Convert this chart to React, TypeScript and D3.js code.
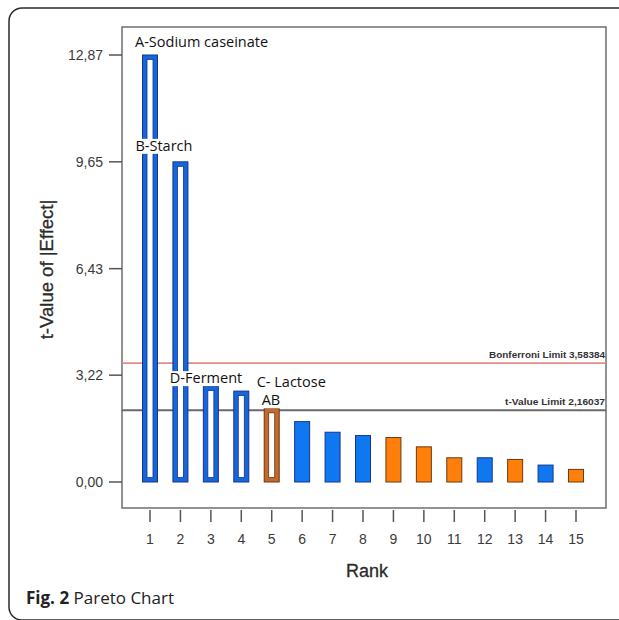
import { useEffect, useRef } from "react";
import * as d3 from "d3";

const ranks = [1, 2, 3, 4, 5, 6, 7, 8, 9, 10, 11, 12, 13, 14, 15];
const tValues = [12.87, 9.65, 2.89, 2.74, 2.22, 1.82, 1.5, 1.4, 1.34, 1.06, 0.73, 0.73, 0.68, 0.51, 0.38];
// positive / negative effect
const effectSign = ["+", "+", "+", "+", "-", "+", "+", "+", "-", "-", "-", "+", "-", "+", "-"];
const yTicks = [0, 3.22, 6.43, 9.65, 12.87];
const bonferroniLimit = 3.58384;
const tValueLimit = 2.16037;
const termLabels = [
  { rank: 1, text: "A-Sodium caseinate", dx: -15, dy: -8 },
  { rank: 2, text: "B-Starch", dx: -45, dy: -11 },
  { rank: 3, text: "D-Ferment", dx: -41, dy: -3 },
  { rank: 5, text: "C- Lactose", dx: -15, dy: -21 },
  { rank: 5, text: "AB", dx: -10, dy: -3 },
];

const sans = "'Liberation Sans', Arial, sans-serif";

export default function App() {
  const ref = useRef<SVGSVGElement>(null);

  useEffect(() => {
    const svg = d3.select(ref.current);
    svg.selectAll("*").remove();

    const plot = { left: 122, right: 606, top: 27, bottom: 508 };
    const x = d3.scaleLinear().domain([1, 15]).range([150, 576]);
    const y = d3.scaleLinear().domain([0, 12.87]).range([482, 55]);
    const comma = d3.formatLocale({ decimal: ",", thousands: ".", grouping: [3], currency: ["", ""] }).format(".2f");

    // outer frame
    svg.append("rect")
      .attr("x", 9).attr("y", 8).attr("width", 650).attr("height", 612).attr("rx", 13)
      .attr("fill", "none").attr("stroke", "#2a2a2a").attr("stroke-width", 1.5);

    // plot box
    svg.append("rect")
      .attr("x", plot.left).attr("y", plot.top)
      .attr("width", plot.right - plot.left).attr("height", plot.bottom - plot.top)
      .attr("fill", "#fff").attr("stroke", "#777").attr("stroke-width", 1.6);

    // limit lines
    svg.append("line")
      .attr("x1", plot.left).attr("x2", plot.right)
      .attr("y1", y(bonferroniLimit)).attr("y2", y(bonferroniLimit))
      .attr("stroke", "#e08c8c").attr("stroke-width", 1.6);
    svg.append("line")
      .attr("x1", plot.left).attr("x2", plot.right)
      .attr("y1", y(tValueLimit)).attr("y2", y(tValueLimit))
      .attr("stroke", "#6a6a6a").attr("stroke-width", 2);

    svg.append("text")
      .attr("x", plot.right - 1).attr("y", y(bonferroniLimit) - 5)
      .attr("text-anchor", "end").attr("font-family", sans)
      .attr("font-size", 9.5).attr("font-weight", "bold").attr("fill", "#333")
      .attr("textLength", 116).attr("lengthAdjust", "spacingAndGlyphs")
      .text("Bonferroni Limit 3,58384");
    svg.append("text")
      .attr("x", plot.right - 1).attr("y", y(tValueLimit) - 5)
      .attr("text-anchor", "end").attr("font-family", sans)
      .attr("font-size", 9.5).attr("font-weight", "bold").attr("fill", "#333")
      .attr("textLength", 100).attr("lengthAdjust", "spacingAndGlyphs")
      .text("t-Value Limit 2,16037");

    // bars
    const bw = 15;
    const barData = ranks.map((r, i) => ({ rank: r, v: tValues[i], sign: effectSign[i], hollow: i < 5 }));
    const fillOf = (s: string) => (s === "+" ? "#0f78f0" : "#ff7f0a");
    const edgeOf = (s: string) => (s === "+" ? "#18358a" : "#6a3a10");

    const g = svg.append("g");
    g.selectAll("rect.bar")
      .data(barData)
      .join("rect")
      .attr("class", "bar")
      .attr("x", (d) => x(d.rank) - bw / 2)
      .attr("y", (d) => y(d.v))
      .attr("width", bw)
      .attr("height", (d) => y(0) - y(d.v))
      .attr("fill", (d) => (d.hollow && d.sign === "-" ? "#c4682c" : d.hollow ? "#1565dc" : fillOf(d.sign)))
      .attr("stroke", (d) => edgeOf(d.sign))
      .attr("stroke-width", 1);

    g.selectAll("rect.hole")
      .data(barData.filter((d) => d.hollow))
      .join("rect")
      .attr("class", "hole")
      .attr("x", (d) => x(d.rank) - bw / 2 + 4.5)
      .attr("y", (d) => y(d.v) + 4.5)
      .attr("width", bw - 9)
      .attr("height", (d) => y(0) - y(d.v) - 9)
      .attr("fill", "#fff")
      .attr("stroke", (d) => edgeOf(d.sign))
      .attr("stroke-width", 0.8);

    // term labels with white knock-out
    termLabels.forEach((l) => {
      const idx = ranks.indexOf(l.rank);
      const tx = x(l.rank) + l.dx;
      const ty = y(tValues[idx]) + l.dy;
      const bg = svg.append("rect").attr("fill", "#fff");
      const t = svg.append("text")
        .attr("x", tx).attr("y", ty)
        .attr("font-family", "'Open Sans', sans-serif").attr("font-size", 14.5)
        .attr("fill", "#111").text(l.text);
      const bb = (t.node() as SVGTextElement).getBBox();
      bg.attr("x", bb.x).attr("y", bb.y + 3).attr("width", bb.width).attr("height", bb.height - 4);
    });

    // y axis ticks
    const yAxis = svg.append("g");
    yAxis.selectAll("line")
      .data(yTicks)
      .join("line")
      .attr("x1", plot.left - 13).attr("x2", plot.left)
      .attr("y1", (d) => y(d)).attr("y2", (d) => y(d))
      .attr("stroke", "#555").attr("stroke-width", 1.5);
    yAxis.selectAll("text")
      .data(yTicks)
      .join("text")
      .attr("x", plot.left - 19).attr("y", (d) => y(d) + 5)
      .attr("text-anchor", "end").attr("font-family", sans)
      .attr("font-size", 14).attr("fill", "#3a3a3a")
      .text((d) => comma(d));

    // x axis ticks
    const xAxis = svg.append("g");
    xAxis.selectAll("line")
      .data(ranks)
      .join("line")
      .attr("x1", (d) => x(d)).attr("x2", (d) => x(d))
      .attr("y1", plot.bottom + 2).attr("y2", plot.bottom + 14)
      .attr("stroke", "#555").attr("stroke-width", 1.5);
    xAxis.selectAll("text")
      .data(ranks)
      .join("text")
      .attr("x", (d) => x(d)).attr("y", plot.bottom + 36)
      .attr("text-anchor", "middle").attr("font-family", sans)
      .attr("font-size", 14).attr("fill", "#3a3a3a")
      .text((d) => d);

    // axis titles
    svg.append("text")
      .attr("transform", `translate(53, ${(y(0) + y(12.87)) / 2 + 1}) rotate(-90)`)
      .attr("text-anchor", "middle").attr("font-family", sans)
      .attr("font-size", 18.5).attr("fill", "#2a2a2a")
      .attr("stroke", "#2a2a2a").attr("stroke-width", 0.3)
      .text("t-Value of |Effect|");
    svg.append("text")
      .attr("x", 367).attr("y", 577)
      .attr("text-anchor", "middle").attr("font-family", sans)
      .attr("font-size", 18).attr("fill", "#2a2a2a")
      .attr("stroke", "#2a2a2a").attr("stroke-width", 0.3)
      .text("Rank");

    // caption
    const cap = svg.append("text")
      .attr("x", 26).attr("y", 604)
      .attr("font-family", "'Open Sans', sans-serif").attr("font-size", 17).attr("fill", "#222");
    cap.append("tspan").attr("font-weight", "bold").text("Fig. 2");
    cap.append("tspan").text(" Pareto Chart");
  }, []);

  return (
    <svg
      ref={ref}
      width={619}
      height={620}
      style={{ position: "absolute", left: 0, top: 0, background: "#fff" }}
    />
  );
}
